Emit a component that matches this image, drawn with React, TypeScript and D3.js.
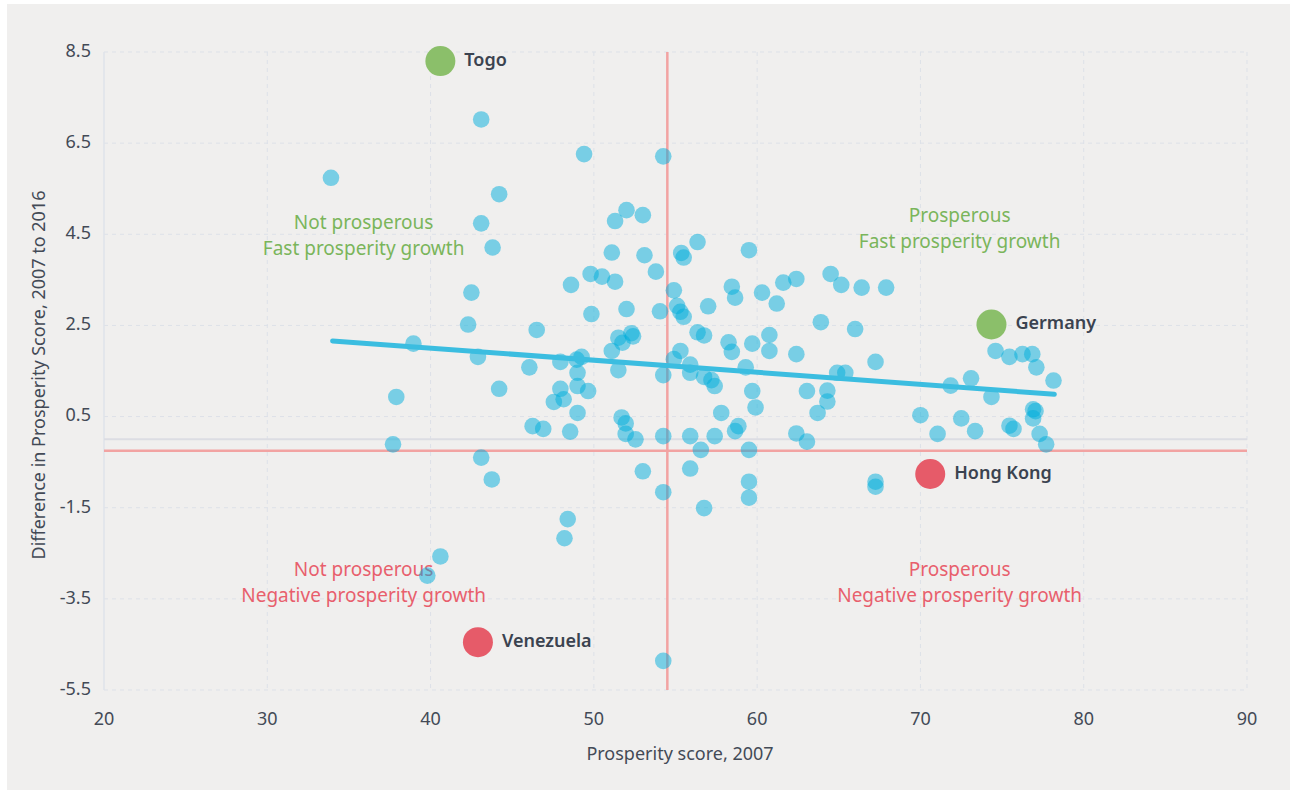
import React from 'react';
import * as d3 from 'd3';

// Prosperity score 2007 (x) and change 2007-2016 (y), one entry per country
const score2007 = [
  43.1, 49.4, 33.9, 44.2, 43.1, 52.0, 51.3, 53.0, 43.8, 51.1, 53.1, 49.8, 50.5, 51.3, 48.6, 42.5,
  54.25, 53.8, 54.9, 52.0, 54.05, 55.1, 55.3, 55.5, 55.35, 55.5, 56.35, 59.5, 57.0, 58.45, 58.65, 60.3,
  61.2, 61.6, 62.4, 64.5, 65.15, 66.4, 67.9, 63.9, 66.0, 51.5, 52.3, 52.4, 51.75, 51.1, 51.5, 54.25,
  54.9, 55.3, 55.9, 55.9, 56.35, 56.75, 56.75, 57.2, 57.4, 58.25, 58.45, 59.7, 60.75, 60.75, 62.4, 59.3,
  59.7, 59.9, 57.8, 63.05, 64.3, 64.3, 63.7, 64.9, 65.4, 67.25, 51.7, 51.95, 51.95, 52.55, 54.25, 55.9,
  57.4, 56.55, 58.65, 58.85, 59.5, 62.4, 63.05, 53.0, 55.9, 54.25, 59.5, 59.5, 56.75, 67.25, 67.25, 42.3,
  49.85, 46.5, 38.95, 42.9, 46.05, 47.95, 48.95, 49.25, 49.0, 44.2, 47.95, 49.0, 49.65, 47.55, 48.15, 37.9,
  49.0, 46.25, 46.9, 48.55, 37.7, 43.1, 43.75, 74.6, 75.45, 76.25, 76.85, 77.1, 78.15, 73.1, 71.85, 74.35,
  70.0, 72.5, 71.05, 73.35, 76.9, 77.05, 76.9, 75.45, 75.7, 77.3, 77.7, 48.4, 48.2, 40.6, 39.8, 54.25,
];
const growth = [
  7.02, 6.26, 5.74, 5.38, 4.74, 5.03, 4.79, 4.92, 4.21, 4.10, 4.04, 3.63, 3.57, 3.46, 3.39, 3.22,
  6.21, 3.68, 3.27, 2.86, 2.81, 2.93, 2.80, 2.69, 4.09, 3.99, 4.33, 4.15, 2.92, 3.35, 3.11, 3.22,
  2.98, 3.44, 3.52, 3.63, 3.39, 3.33, 3.33, 2.57, 2.42, 2.23, 2.33, 2.26, 2.12, 1.94, 1.52, 1.41,
  1.76, 1.94, 1.64, 1.46, 2.35, 2.28, 1.37, 1.30, 1.17, 2.13, 1.92, 2.10, 2.29, 1.94, 1.87, 1.58,
  1.06, 0.70, 0.58, 1.06, 1.07, 0.83, 0.58, 1.46, 1.46, 1.70, 0.48, 0.35, 0.12, 0.0, 0.07, 0.07,
  0.07, -0.23, 0.18, 0.29, -0.23, 0.13, -0.05, -0.70, -0.64, -1.16, -0.93, -1.28, -1.51, -0.93, -1.04, 2.52,
  2.75, 2.40, 2.10, 1.81, 1.58, 1.70, 1.75, 1.81, 1.46, 1.11, 1.11, 1.17, 1.06, 0.82, 0.88, 0.93,
  0.58, 0.29, 0.23, 0.17, -0.11, -0.40, -0.88, 1.94, 1.81, 1.87, 1.87, 1.58, 1.29, 1.34, 1.18, 0.93,
  0.53, 0.46, 0.12, 0.18, 0.66, 0.62, 0.46, 0.30, 0.23, 0.12, -0.11, -1.75, -2.17, -2.57, -2.99, -4.86,
];

const highlightNames = ['Togo', 'Germany', 'Hong Kong', 'Venezuela'];
const highlightX = [40.6, 74.35, 70.6, 42.9];
const highlightY = [8.3, 2.52, -0.76, -4.45];
const highlightColors = ['#8bbf6a', '#8bbf6a', '#e65b69', '#e65b69'];

// fitted trend line end points
const trendX = [34.0, 78.2];
const trendY = [2.16, 0.99];

const xTicks = [20, 30, 40, 50, 60, 70, 80, 90];
const yTicks = [8.5, 6.5, 4.5, 2.5, 0.5, -1.5, -3.5, -5.5];

// quadrant dividers
const medianScore = 54.5;
const medianGrowth = -0.25;

const quadrantLabels = [
  { lines: ['Not prosperous', 'Fast prosperity growth'], x: 35.9, y: 4.5, color: '#7ab55b' },
  { lines: ['Prosperous', 'Fast prosperity growth'], x: 72.4, y: 4.65, color: '#7ab55b' },
  { lines: ['Not prosperous', 'Negative prosperity growth'], x: 35.9, y: -3.11, color: '#e85f6d' },
  { lines: ['Prosperous', 'Negative prosperity growth'], x: 72.4, y: -3.11, color: '#e85f6d' },
];

const font = '"Noto Sans", "Open Sans", sans-serif';
const textColor = '#434a56';

export default function App() {
  const x = d3.scaleLinear().domain([20, 90]).range([104, 1247]);
  const y = d3.scaleLinear().domain([8.5, -5.5]).range([52, 690]);

  const points = score2007.map((s, i) => ({ s, g: growth[i] }));
  const trend = d3.line<number>()
    .x((_, i) => x(trendX[i]))
    .y(d => y(d));

  return (
    <svg width={1295} height={794} style={{ position: 'absolute', left: 0, top: 0 }}>
      <rect x={7} y={4} width={1283} height={786} fill="#f0efee" />

      {/* grid */}
      {xTicks.slice(1).map(t => (
        <line key={'gx' + t} x1={x(t)} x2={x(t)} y1={y(8.5)} y2={y(-5.5)}
          stroke="#dde1e8" strokeWidth={1} strokeDasharray="4,4" />
      ))}
      {yTicks.map(t => (
        <line key={'gy' + t} x1={x(20)} x2={x(90)} y1={y(t)} y2={y(t)}
          stroke="#dde1e8" strokeWidth={1} strokeDasharray="4,4" />
      ))}
      <line x1={x(20)} x2={x(20)} y1={y(8.5)} y2={y(-5.5)} stroke="#dfe3ea" strokeWidth={1.5} />
      <line x1={x(20)} x2={x(90)} y1={y(0)} y2={y(0)} stroke="#dcdde3" strokeWidth={2} />

      {/* median lines */}
      <line x1={x(medianScore)} x2={x(medianScore)} y1={y(8.5)} y2={y(-5.5)} stroke="#f2a3a2" strokeWidth={2.5} />
      <line x1={x(20)} x2={x(90)} y1={y(medianGrowth)} y2={y(medianGrowth)} stroke="#f2a3a2" strokeWidth={2.5} />

      {/* tick labels */}
      {xTicks.map(t => (
        <text key={'tx' + t} x={x(t)} y={720} textAnchor="middle" dominantBaseline="middle"
          fontFamily={font} fontSize={18} fill={textColor}>{t}</text>
      ))}
      {yTicks.map(t => (
        <text key={'ty' + t} x={91} y={y(t)} textAnchor="end" dominantBaseline="middle"
          fontFamily={font} fontSize={18} fill={textColor}>{t}</text>
      ))}

      <text x={680} y={755} textAnchor="middle" dominantBaseline="middle"
        fontFamily={font} fontSize={18} fill={textColor}>Prosperity score, 2007</text>
      <text transform={`translate(40,375) rotate(-90)`} textAnchor="middle" dominantBaseline="middle"
        fontFamily={font} fontSize={18} fill={textColor}>Difference in Prosperity Score, 2007 to 2016</text>

      {/* quadrant labels */}
      {quadrantLabels.map((q, i) => (
        <text key={'q' + i} x={x(q.x)} y={y(q.y)} textAnchor="middle" fontFamily={font}
          fontSize={19} fill={q.color}>
          {q.lines.map((l, j) => (
            <tspan key={j} x={x(q.x)} dy={j === 0 ? -5 : 26}>{l}</tspan>
          ))}
        </text>
      ))}

      {/* countries */}
      {points.map((p, i) => (
        <circle key={'p' + i} cx={x(p.s)} cy={y(p.g)} r={8.3} fill="#00aedb" fillOpacity={0.5} />
      ))}

      <path d={trend(trendY) || ''} fill="none" stroke="#3bbde0" strokeWidth={5} strokeLinecap="round" />

      {highlightNames.map((n, i) => (
        <g key={n}>
          <circle cx={x(highlightX[i])} cy={y(highlightY[i])} r={15} fill={highlightColors[i]} />
          <text x={x(highlightX[i]) + 24} y={y(highlightY[i])} dominantBaseline="middle"
            fontFamily={font} fontSize={18} fontWeight={600} fill="#3b4350">{n}</text>
        </g>
      ))}
    </svg>
  );
}
